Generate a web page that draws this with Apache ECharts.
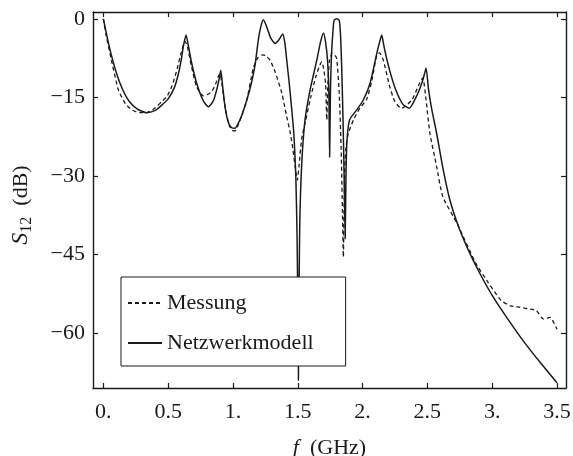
<!DOCTYPE html>
<html>
<head>
<meta charset="utf-8">
<script src="https://cdn.jsdelivr.net/npm/echarts@6/dist/echarts.min.js"></script>
<style>
  html, body { margin: 0; padding: 0; background: #fff; }
  #chart { width: 573px; height: 456px; }
</style>
</head>
<body>
<div id="chart"></div>
<script>
// Netzwerkmodell (durchgezogen)
var freqModel = [0, 0.02, 0.05, 0.1, 0.15, 0.2, 0.26, 0.335, 0.4, 0.45, 0.5, 0.55, 0.58, 0.6, 0.617,
  0.638, 0.655, 0.68, 0.72, 0.77, 0.81, 0.85, 0.875, 0.893, 0.906, 0.92, 0.94, 0.965, 0.99, 1.016,
  1.04, 1.07, 1.107, 1.14, 1.17, 1.196, 1.215, 1.235, 1.26, 1.29, 1.325, 1.355, 1.384, 1.4, 1.415,
  1.435, 1.454, 1.47, 1.485, 1.495, 1.502, 1.505, 1.508, 1.515, 1.53, 1.556, 1.595, 1.647, 1.675,
  1.698, 1.715, 1.73, 1.74, 1.746, 1.752, 1.76, 1.77, 1.78, 1.8, 1.82, 1.83, 1.84, 1.85, 1.86,
  1.866, 1.872, 1.88, 1.9, 1.955, 2.006, 2.058, 2.11, 2.13, 2.148, 2.165, 2.19, 2.22, 2.26, 2.31, 2.36,
  2.42, 2.457, 2.477, 2.49, 2.51, 2.535, 2.572, 2.62, 2.675, 2.75, 2.83, 2.92, 3.01, 3.12, 3.24,
  3.37, 3.5];
var s12Model = [0, -2.4, -5.8, -10.3, -13.6, -15.8, -17.2, -17.95, -17.5, -16.5, -15.3, -13.0, -10.4, -8.0, -5.3,
  -3.1, -5.0, -8.3, -12.3, -15.6, -16.8, -15.6, -13.5, -11.5, -9.8, -12.8, -17.0, -19.8, -20.8, -20.9,
  -20.0, -18.3, -15.5, -12.5, -8.9, -4.0, -1.5, -0.2, -1.5, -3.6, -4.7, -4.0, -2.9, -4.5, -7.9,
  -12.5, -17.4, -22, -30, -42, -58, -69, -58, -40, -28, -19.3, -13.6, -7.9, -4.5,
  -2.7, -4.5, -8.0, -14.0, -26.4, -14.0, -7.0, -3.0, -0.3, 0, -0.3, -3.0, -10.0, -20.0, -33.0,
  -42.0, -30.0, -23.2, -19.3, -17.4, -15.5, -12.3, -6.6, -4.6, -3.1, -5.2, -8.0, -10.8, -13.8, -16.3, -17.1,
  -14.6, -12.3, -10.6, -9.4, -13.6, -17.4, -21.9, -28.5, -34.7, -40.3, -44.9, -49.3, -53.2, -57.3, -61.5,
  -65.6, -69.5];

// Messung (gestrichelt)
var freqMeas = [0, 0.02, 0.065, 0.116, 0.17, 0.22, 0.28, 0.335, 0.4, 0.45, 0.489, 0.53, 0.57, 0.6, 0.63,
  0.65, 0.68, 0.72, 0.77, 0.8, 0.836, 0.865, 0.887, 0.9, 0.915, 0.94, 0.97, 0.995, 1.016, 1.04,
  1.07, 1.107, 1.157, 1.19, 1.222, 1.25, 1.286, 1.325, 1.377, 1.415, 1.44, 1.46, 1.48, 1.497, 1.51,
  1.53, 1.56, 1.6, 1.64, 1.685, 1.7, 1.715, 1.724, 1.732, 1.745, 1.766, 1.78, 1.8, 1.82, 1.835,
  1.845, 1.852, 1.858, 1.865, 1.875, 1.89, 1.93, 1.98, 2.03, 2.07, 2.11, 2.13, 2.16, 2.21, 2.25,
  2.3, 2.38, 2.44, 2.465, 2.49, 2.52, 2.57, 2.62, 2.73, 2.87, 2.96, 3.07, 3.14, 3.215, 3.28,
  3.34, 3.395, 3.447, 3.5];
var s12Meas = [0, -3, -8.2, -13.6, -16.2, -17.4, -17.9, -17.9, -17.0, -15.8, -14.9, -12.8, -9.5, -6.5, -4.3,
  -5.5, -9.1, -13.0, -14.7, -14.5, -13.9, -12.5, -11.0, -10.5, -12.5, -17.0, -20.3, -21.3, -21.4, -20.3,
  -18.3, -15.5, -9.4, -7.5, -6.9, -7.0, -7.9, -10.1, -14.2, -18.7, -21.5, -24.5, -28.3, -30.8, -28,
  -23, -19.5, -15, -11, -8.2, -9.5, -12.5, -19.3, -12.5, -8.0, -6.6, -6.8, -7.5, -14.2, -25,
  -37, -45.5, -35, -27, -24, -21.9, -19.3, -17.0, -15.5, -12.0, -6.9, -6.5, -7.9, -13.0, -15.8,
  -17.1, -15.5, -12.3, -11.3, -15.5, -21.9, -28, -34, -39.1, -46.5, -50, -53.8, -54.8, -55.1, -55.4,
  -55.7, -57.3, -57.0, -59.3];

var xTicks = [0, 0.5, 1, 1.5, 2, 2.5, 3, 3.5];
var yTicks = [0, -15, -30, -45, -60];

function pairs(xs, ys) {
    var out = [];
    for (var i = 0; i < xs.length; i++) out.push([xs[i], ys[i]]);
    return out;
}

var serif = "'Liberation Serif', 'Times New Roman', serif";
var ink = '#1a1a1a';

function frameX(pos, showLabels) {
    return {
        type: 'value',
        position: pos,
        min: -0.08,
        max: 3.57,
        splitLine: {show: false},
        axisLine: {show: true, onZero: false, lineStyle: {color: ink, width: 1.4}},
        axisTick: {show: true, inside: true, length: 5, customValues: xTicks, lineStyle: {color: ink, width: 1.2}},
        axisLabel: {
            show: showLabels,
            customValues: xTicks,
            margin: 13,
            fontFamily: serif,
            fontSize: 22,
            color: ink,
            formatter: function (v) { return Number.isInteger(v) ? v + '.' : String(v); }
        }
    };
}

function frameY(pos, showLabels) {
    return {
        type: 'value',
        position: pos,
        min: -70.5,
        max: 1.3,
        splitLine: {show: false},
        axisLine: {show: true, onZero: false, lineStyle: {color: ink, width: 1.4}},
        axisTick: {show: true, inside: true, length: 5, customValues: yTicks, lineStyle: {color: ink, width: 1.2}},
        axisLabel: {
            show: showLabels,
            customValues: yTicks,
            margin: 8,
            fontFamily: serif,
            fontSize: 22,
            color: ink,
            formatter: function (v) { return v === 0 ? '0' : '\u2212' + Math.abs(v); }
        }
    };
}

var xBottom = frameX('bottom', true);
xBottom.name = '{i|f}  (GHz)';
xBottom.nameLocation = 'middle';
xBottom.nameGap = 49;
xBottom.nameTextStyle = {
    fontFamily: serif, fontSize: 22, color: ink,
    rich: {i: {fontFamily: serif, fontSize: 22, fontStyle: 'italic', color: ink}}
};

var yLeft = frameY('left', true);
yLeft.name = '{i|S}{sub|12}  (dB)';
yLeft.nameLocation = 'middle';
yLeft.nameGap = 58;
yLeft.nameTextStyle = {
    fontFamily: serif, fontSize: 22, color: ink, lineHeight: 28,
    padding: [0, 10, 0, 0],
    rich: {
        i: {fontFamily: serif, fontSize: 24, fontStyle: 'italic', color: ink, lineHeight: 28},
        sub: {fontFamily: serif, fontSize: 16, color: ink, verticalAlign: 'bottom', lineHeight: 15}
    }
};

var option = {
    animation: false,
    backgroundColor: '#fff',
    grid: {left: 93, right: 7, top: 12, bottom: 68, containLabel: false, outerBoundsMode: 'none'},
    legend: {
        left: 121,
        top: 277,
        orient: 'vertical',
        backgroundColor: '#fff',
        borderColor: ink,
        borderWidth: 1,
        padding: [15, 32, 12, 6],
        itemGap: 18,
        itemWidth: 34,
        itemHeight: 14,
        itemStyle: {opacity: 0},
        textStyle: {fontFamily: serif, fontSize: 22, color: ink},
        data: ['Messung', 'Netzwerkmodell']
    },
    xAxis: [xBottom, frameX('top', false)],
    yAxis: [yLeft, frameY('right', false)],
    series: [
        {
            name: 'Messung',
            type: 'line',
            symbol: 'none',
            smooth: 0.2,
            lineStyle: {color: ink, width: 1.3, type: [4, 3]},
            itemStyle: {color: ink},
            data: pairs(freqMeas, s12Meas)
        },
        {
            name: 'Netzwerkmodell',
            type: 'line',
            symbol: 'none',
            smooth: 0.2,
            lineStyle: {color: ink, width: 1.5, type: 'solid'},
            itemStyle: {color: ink},
            data: pairs(freqModel, s12Model)
        }
    ]
};

var chart = echarts.init(document.getElementById('chart'));
chart.setOption(option);
</script>
</body>
</html>
